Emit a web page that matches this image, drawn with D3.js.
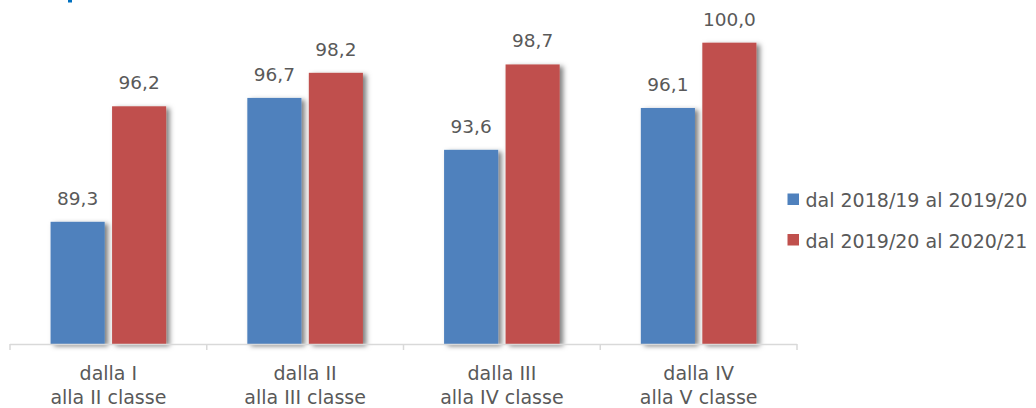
<!DOCTYPE html>
<html>
<head>
<meta charset="utf-8">
<script src="https://cdn.jsdelivr.net/npm/d3@7"></script>
<style>
  html, body { margin: 0; padding: 0; background: #fff; }
  svg { display: block; }
  text { font-family: "DejaVu Sans", sans-serif; fill: #595959; }
</style>
</head>
<body>
<svg id="chart" width="1036" height="408"></svg>
<script>
// Tassi di passaggio per classe (valori percentuali)
const categories = [
  ["dalla I", "alla II classe"],
  ["dalla II", "alla III classe"],
  ["dalla III", "alla IV classe"],
  ["dalla IV", "alla V classe"]
];
const seriesNames = ["dal 2018/19 al 2019/20", "dal 2019/20 al 2020/21"];
const values2019 = [89.3, 96.7, 93.6, 96.1];
const values2020 = [96.2, 98.2, 98.7, 100.0];
const colors = ["#4f81bd", "#c0504d"];

const svg = d3.select("#chart");

const defs = svg.append("defs");
const shadow = defs.append("filter").attr("id", "barShadow")
  .attr("x", "-20%").attr("y", "-10%").attr("width", "150%").attr("height", "130%");
shadow.append("feDropShadow")
  .attr("dx", 3.5).attr("dy", 2).attr("stdDeviation", 2.5)
  .attr("flood-color", "#000").attr("flood-opacity", 0.5);

const plot = { left: 10, right: 797, bottom: 344 };

const x0 = d3.scaleBand()
  .domain(d3.range(categories.length))
  .range([plot.left, plot.right])
  .paddingInner(0).paddingOuter(0);

const groupInner = d3.scaleBand()
  .domain([0, 1])
  .range([0, x0.bandwidth()])
  .paddingInner(0.12)
  .paddingOuter(0.66);

const y = d3.scaleLinear()
  .domain([82, 102])
  .range([plot.bottom, plot.bottom - 20 * 16.74]);

const fmt = v => d3.format(".1f")(v).replace(".", ",");

const data = categories.map((c, i) => ({
  i, vals: [values2019[i], values2020[i]]
}));

// Barre
const groups = svg.append("g").selectAll("g").data(data).join("g")
  .attr("transform", d => `translate(${x0(d.i)},0)`);

groups.selectAll("rect").data(d => d.vals.map((v, s) => ({ v, s }))).join("rect")
  .attr("x", d => groupInner(d.s))
  .attr("width", groupInner.bandwidth())
  .attr("y", d => y(d.v))
  .attr("height", d => y.range()[0] - y(d.v))
  .attr("fill", d => colors[d.s])
  .attr("filter", "url(#barShadow)");

// Etichette dei valori
groups.selectAll("text.val").data(d => d.vals.map((v, s) => ({ v, s }))).join("text")
  .attr("class", "val")
  .attr("x", d => groupInner(d.s) + groupInner.bandwidth() / 2)
  .attr("y", d => y(d.v) - 17)
  .attr("text-anchor", "middle")
  .style("font-size", "18.5px")
  .text(d => fmt(d.v));

// Asse delle categorie
const axis = svg.append("g");
axis.append("line")
  .attr("x1", plot.left).attr("x2", plot.right)
  .attr("y1", plot.bottom + 0.5).attr("y2", plot.bottom + 0.5)
  .attr("stroke", "#d9d9d9").attr("stroke-width", 1.5);
const tickPos = d3.range(categories.length + 1).map(k =>
  k < categories.length ? x0(k) : x0(k - 1) + x0.bandwidth());
axis.selectAll("line.tick").data(tickPos).join("line")
  .attr("class", "tick")
  .attr("x1", d => d).attr("x2", d => d)
  .attr("y1", plot.bottom).attr("y2", plot.bottom + 6)
  .attr("stroke", "#d9d9d9").attr("stroke-width", 1.5);

const catText = axis.selectAll("text").data(categories).join("text")
  .attr("text-anchor", "middle")
  .style("font-size", "19px")
  .attr("transform", (d, i) => `translate(${x0(i) + x0.bandwidth() / 2},0)`);
catText.selectAll("tspan").data(d => d).join("tspan")
  .attr("x", 0)
  .attr("y", (d, j) => 380 + j * 24)
  .text(d => d);

// Legenda
const legend = svg.append("g").selectAll("g").data(seriesNames).join("g")
  .attr("transform", (d, i) => `translate(787.5,${193.5 + i * 40.5})`);
legend.append("rect")
  .attr("width", 11.5).attr("height", 11.5)
  .attr("fill", (d, i) => colors[i]);
legend.append("text")
  .attr("x", 18).attr("y", 13.5)
  .style("font-size", "19px")
  .text(d => d);

// Frammento del titolo in alto
svg.append("rect").attr("x", 68).attr("y", 0).attr("width", 4).attr("height", 2.5)
  .attr("fill", "#0070c0");
</script>
</body>
</html>
